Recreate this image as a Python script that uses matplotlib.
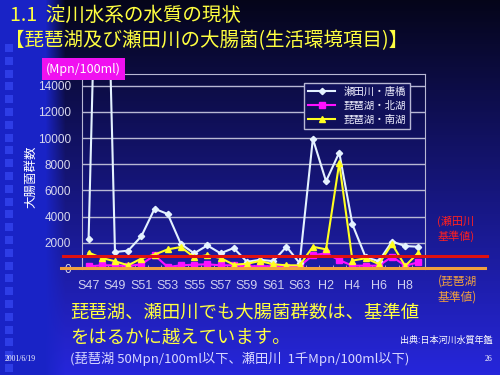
import numpy as np
import matplotlib
matplotlib.use("Agg")
import matplotlib.pyplot as plt
import matplotlib.transforms as mtransforms
from matplotlib.patches import Rectangle

plt.rcParams['font.family'] = ['Noto Sans CJK JP', 'DejaVu Sans']

# data
years = ['S47', 'S48', 'S49', 'S50', 'S51', 'S52', 'S53', 'S54', 'S55', 'S56',
         'S57', 'S58', 'S59', 'S60', 'S61', 'S62', 'S63', 'H1', 'H2', 'H3',
         'H4', 'H5', 'H6', 'H7', 'H8', 'H9']
seta_karahashi = [2300, 42000, 1300, 1400, 2500, 4600, 4200, 1900, 1200, 1800,
                  1200, 1600, 550, 700, 600, 1700, 450, 9950, 6700, 8900,
                  3400, 900, 600, 2100, 1750, 1700]
biwa_north = [200, 280, 280, 220, 360, 1050, 150, 280, 330, 360,
              280, 280, 200, 220, 200, 150, 220, 1050, 1200, 680,
              250, 250, 250, 940, 250, 510]
biwa_south = [1250, 840, 590, 280, 800, 1100, 1500, 1680, 900, 1050,
              840, 330, 400, 610, 360, 280, 280, 1700, 1500, 8100,
              640, 820, 380, 1910, 230, 1250]
seta_std = 1000   # 瀬田川 基準値
biwa_std = 50     # 琵琶湖 基準値
yticks = [0, 2000, 4000, 6000, 8000, 10000, 12000, 14000]

fig = plt.figure(figsize=(5, 3.75), dpi=100)

# slide background
bg = fig.add_axes([0, 0, 1, 1], zorder=-10)
H, W = 375, 500
t = np.linspace(0, 1, H)[:, None]
top = np.array([0.02, 0.02, 0.10])
bot = np.array([0.15, 0.15, 0.86])
img = top + (bot - top) * t[..., None]
img = np.repeat(img, W, axis=1)
xx = np.arange(W)[None, :]
fade = np.clip((xx - 45) / 20.0, 0, 1)[..., None]
band = np.array([0.10, 0.14, 0.78])
img = band * (1 - fade) + img * fade
bg.imshow(img, aspect='auto', extent=[0, 1, 0, 1])
bg.set_xlim(0, 1)
bg.set_ylim(0, 1)
bg.axis('off')
for k in range(26):
    yy = 1 - (52 + k * 12.8) / 375
    bg.add_patch(Rectangle((5 / 500, yy), 8 / 500, 8 / 375,
                           color=(0.18, 0.24, 0.90), lw=0))

ax = fig.add_axes([0.164, 0.2827, 0.686, 0.52])
ax.patch.set_alpha(0)
x = np.arange(len(years))

ax.plot(x, seta_karahashi, color='#e4f2ff', lw=1.5, marker='D', ms=3.2,
        label='瀬田川・唐橋', zorder=4)
ax.plot(x, biwa_north, color='#ff10ff', lw=1.5, marker='s', ms=4,
        label='琵琶湖・北湖', zorder=3)
ax.plot(x, biwa_south, color='#ffff20', lw=1.5, marker='^', ms=5,
        label='琵琶湖・南湖', zorder=5)

ax.set_xlim(-0.5, len(years) - 0.5)
ax.set_ylim(0, 14900)
ax.set_yticks(yticks)
ax.set_yticklabels([str(v) for v in yticks], color='#d8d8ee', fontsize=8.5,
                   family=['Liberation Sans', 'DejaVu Sans'])
ax.set_xticks(x[::2])
ax.set_xticklabels(years[::2], color='#d0d0f0', fontsize=9,
                   family=['Liberation Sans', 'DejaVu Sans'])
ax.set_xticks(np.arange(len(years) + 1) - 0.5, minor=True)
ax.tick_params(axis='y', length=0, pad=8)
ax.tick_params(axis='x', which='major', length=0, pad=8)
ax.tick_params(axis='x', which='minor', length=3, direction='in',
               color='#c0c0e0')
ax.grid(axis='y', color='#b8b8d4', lw=1)
for side in ['left', 'top', 'right']:
    ax.spines[side].set_color('#b8b8d4')
ax.spines['bottom'].set_visible(False)

# standard lines reaching outside the plot area
trans = mtransforms.blended_transform_factory(ax.transAxes, ax.transData)
ax.plot([-0.055, 1.18], [seta_std, seta_std], color='#e01010', lw=2.2,
        transform=trans, clip_on=False, zorder=6)
ax.plot([-0.06, 1.175], [biwa_std, biwa_std], color='#f0a040', lw=2.2,
        transform=trans, clip_on=False, zorder=6)

leg = ax.legend(loc='upper right', bbox_to_anchor=(0.972, 0.982),
                fontsize=7.5, frameon=True, handlelength=2.6,
                borderpad=0.4, labelspacing=0.35, fancybox=False)
leg.get_frame().set_facecolor('#10105a')
leg.get_frame().set_edgecolor('#b8b8d4')
leg.get_frame().set_alpha(1)
for txt in leg.get_texts():
    txt.set_color('#f0f0ff')

# texts
fig.text(0.02, 0.958, '1.1  淀川水系の水質の現状', color='#ffff40',
         fontsize=14, va='center')
fig.text(0.01, 0.893, '【琵琶湖及び瀬田川の大腸菌(生活環境項目)】',
         color='#ffff40', fontsize=14, va='center')
fig.text(0.167, 0.815, '(Mpn/100ml)', color='white', fontsize=9,
         ha='center', va='center',
         bbox=dict(boxstyle='square,pad=0.35', fc='#f010f0', ec='none'))
fig.text(0.062, 0.53, '大腸菌群数', color='white', fontsize=9,
         rotation=90, ha='center', va='center')
fig.text(0.912, 0.39, '(瀬田川\n基準値)', color='#ff2020', fontsize=8,
         ha='center', va='center', linespacing=1.3)
fig.text(0.915, 0.23, '(琵琶湖\n基準値)', color='#f0a040', fontsize=8.5,
         ha='center', va='center', linespacing=1.3)
fig.text(0.14, 0.165, '琵琶湖、瀬田川でも大腸菌群数は、基準値', color='#ffff40',
         fontsize=13.2, va='center')
fig.text(0.14, 0.1, 'をはるかに越えています。', color='#ffff40',
         fontsize=13.2, va='center')
fig.text(0.985, 0.093, '出典:日本河川水質年鑑', color='white', fontsize=6.5,
         ha='right', va='center')
fig.text(0.14, 0.043, '(琵琶湖 50Mpn/100ml以下、瀬田川  1千Mpn/100ml以下)',
         color='#d8d8ff', fontsize=9.5, va='center')
fig.text(0.01, 0.043, '2001/6/19', color='white', fontsize=5.5,
         va='center', family=['Liberation Serif', 'DejaVu Serif'])
fig.text(0.985, 0.043, '26', color='white', fontsize=5.5, ha='right',
         va='center', family=['Liberation Serif', 'DejaVu Serif'])

fig.savefig('out.png', dpi=100)
